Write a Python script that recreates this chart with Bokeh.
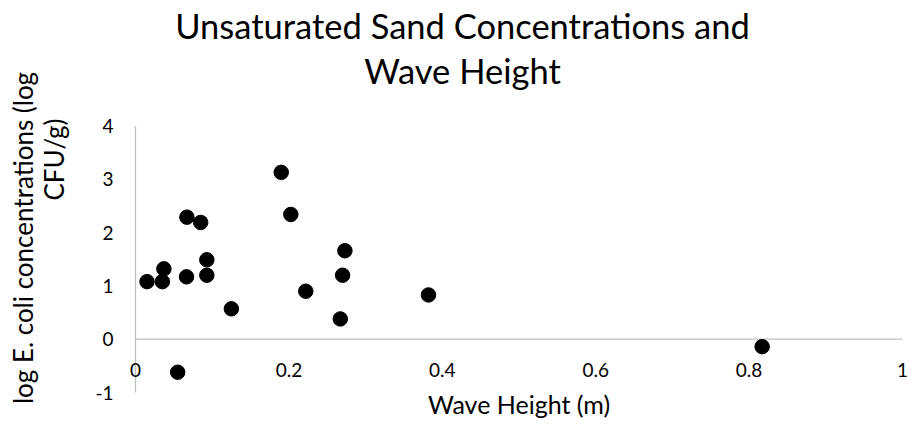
import math
from bokeh.plotting import figure
from bokeh.models import ColumnDataSource, Label, LabelSet, Range1d
from bokeh.core.properties import value
from bokeh.embed import file_html
from bokeh.resources import INLINE

# Data
wave_height = [0.015, 0.035, 0.037, 0.0665, 0.067, 0.085, 0.093, 0.093, 0.055,
               0.125, 0.190, 0.2025, 0.222, 0.273, 0.270, 0.267, 0.382, 0.817]
log_ecoli = [1.08, 1.08, 1.32, 1.17, 2.29, 2.19, 1.49, 1.20, -0.62,
             0.57, 3.13, 2.34, 0.90, 1.66, 1.20, 0.38, 0.83, -0.14]

x_ticks = [0, 0.2, 0.4, 0.6, 0.8, 1]
x_tick_labels = ["0", "0.2", "0.4", "0.6", "0.8", "1"]
y_ticks = [-1, 0, 1, 2, 3, 4]
y_tick_labels = ["-1", "0", "1", "2", "3", "4"]

title_lines = ["Unsaturated Sand Concentrations and", "Wave Height"]
x_title = "Wave Height (m)"
y_title_lines = ["log E. coli concentrations (log", "CFU/g)"]

FONT = "Lato"
AXIS_COLOR = "#BFBFBF"

# ---- layout (pixels) ----
W, H = 910, 427
PLOT_LEFT, PLOT_RIGHT = 135, 902     # pixel positions of x = min/max tick
PLOT_TOP, PLOT_BOTTOM = 125.5, 392   # pixel positions of y = max/min tick

x_lo, x_hi = min(x_ticks), max(x_ticks)
y_lo, y_hi = min(y_ticks), max(y_ticks)
ppx = (PLOT_RIGHT - PLOT_LEFT) / (x_hi - x_lo)
ppy = (PLOT_BOTTOM - PLOT_TOP) / (y_hi - y_lo)
x_start = x_lo - PLOT_LEFT / ppx
x_end = x_start + W / ppx
y_end = y_hi + PLOT_TOP / ppy
y_start = y_end - H / ppy

p = figure(width=W, height=H, output_backend="svg", toolbar_location=None,
           x_range=Range1d(x_start, x_end), y_range=Range1d(y_start, y_end),
           x_axis_location=None, y_axis_location=None,
           min_border=0)
p.outline_line_color = None
p.grid.visible = False
p.background_fill_color = "white"
p.border_fill_color = "white"

# axis lines: vertical at x = 0 from min to max y tick, horizontal at y = 0
p.segment(x0=[x_lo], y0=[y_lo], x1=[x_lo], y1=[y_hi], line_color=AXIS_COLOR, line_width=1.3)
p.segment(x0=[x_lo], y0=[0], x1=[x_hi], y1=[0], line_color=AXIS_COLOR, line_width=1.3)

# y tick labels
ysrc = ColumnDataSource(dict(x=[x_lo] * len(y_ticks), y=y_ticks, t=y_tick_labels))
p.add_layout(LabelSet(x="x", y="y", text="t", source=ysrc, x_offset=-22,
                      text_align="right", text_baseline="middle",
                      text_font=value(FONT), text_font_size=value("19px"),
                      text_color="black"))

# x tick labels below the y = 0 line
xsrc = ColumnDataSource(dict(x=x_ticks, y=[0] * len(x_ticks), t=x_tick_labels))
p.add_layout(LabelSet(x="x", y="y", text="t", source=xsrc, y_offset=-38,
                      text_align="center", text_baseline="alphabetic",
                      text_font=value(FONT), text_font_size=value("19px"),
                      text_color="black"))

src = ColumnDataSource(dict(x=wave_height, y=log_ecoli))
p.scatter("x", "y", source=src, size=14.5, color="black")

# Title (two lines) - screen units from bottom-left of canvas
for i, line in enumerate(title_lines):
    p.add_layout(Label(x=462, y=H - 25 - 45 * i, x_units="screen", y_units="screen",
                       text=line, text_align="center", text_baseline="middle",
                       text_font=FONT, text_font_size="34.5px", text_color="black"))

# X axis title
p.add_layout(Label(x=(PLOT_LEFT + PLOT_RIGHT) / 2, y=H - 403.5, x_units="screen", y_units="screen",
                   text=x_title, text_align="center", text_baseline="middle",
                   text_font=FONT, text_font_size="25px", text_color="black"))

# Y axis title (two lines)
p.add_layout(Label(x=22, y=H - 237.5, x_units="screen", y_units="screen",
                   text=y_title_lines[0], angle=math.pi / 2,
                   text_align="center", text_baseline="middle",
                   text_font=FONT, text_font_size="26px", text_color="black"))
p.add_layout(Label(x=53, y=H - 159, x_units="screen", y_units="screen",
                   text=y_title_lines[1], angle=math.pi / 2,
                   text_align="center", text_baseline="middle",
                   text_font=FONT, text_font_size="26px", text_color="black"))

open("out.html", "w").write(file_html(p, INLINE))
